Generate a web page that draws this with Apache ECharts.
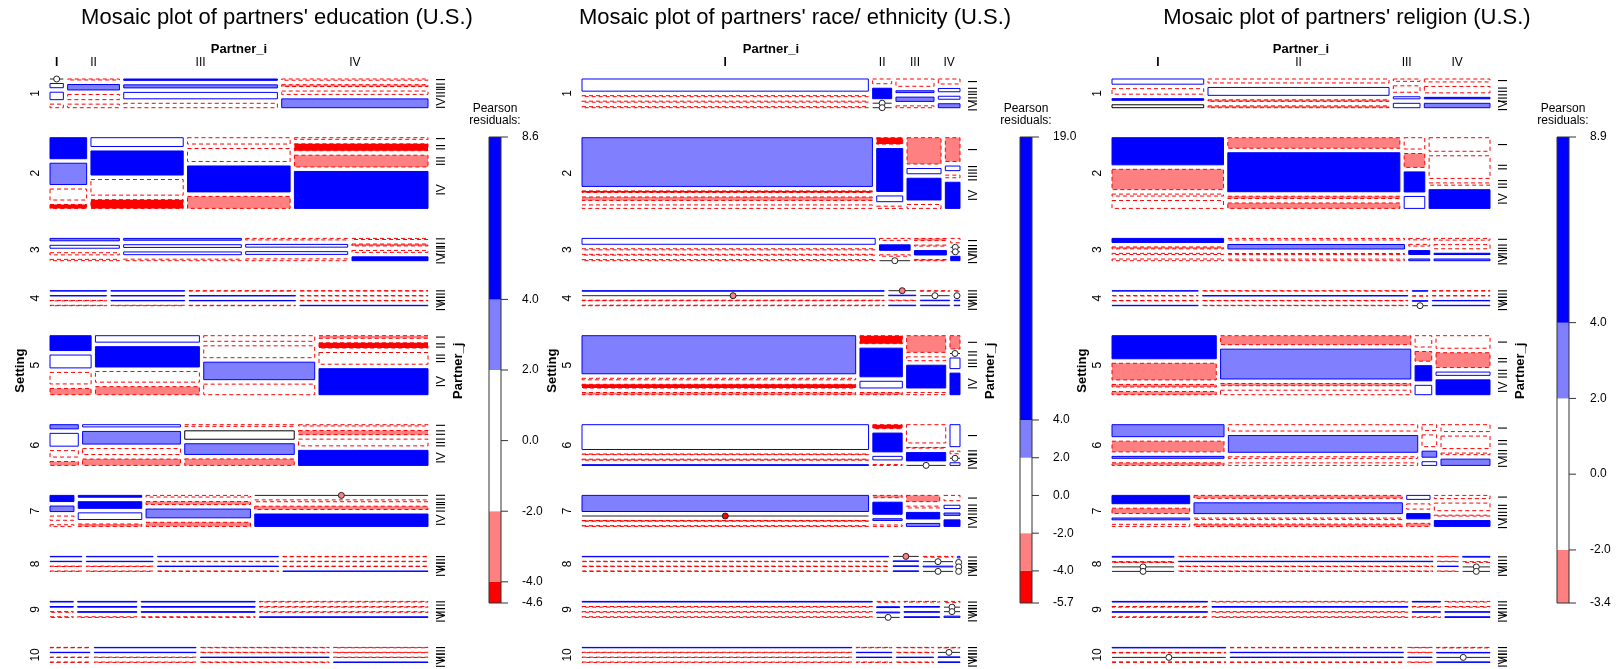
<!DOCTYPE html>
<html>
<head>
<meta charset="utf-8">
<script src="https://cdn.jsdelivr.net/npm/echarts@6.0.0/dist/echarts.min.js"></script>
<style>
  html, body { margin: 0; background: #fff; }
  #chart { width: 1620px; height: 669px; }
</style>
</head>
<body>
<div id="chart"></div>
<script>
// --- shared data ---
const settingLabels = ['1', '2', '3', '4', '5', '6', '7', '8', '9', '10'];
const levelLabels = ['I', 'II', 'III', 'IV'];
// relative size of each setting (row heights)
const settingTotals = [15.2, 57.2, 8.8, 1.5, 45.5, 27.2, 17.5, 1.5, 2.5, 1.5];

// --- education ---
const eduWidths = [
  [40, 155, 460, 438], [110, 277, 308, 401], [208, 353, 306, 228], [170, 222, 320, 385],
  [123, 311, 332, 326], [85, 294, 329, 389], [72, 191, 314, 521], [96, 201, 364, 436],
  [70, 178, 342, 506], [120, 306, 387, 284]
];
const eduHeights = [
  [[0, 13, 23, 11], [3, 17, 16, 11], [4, 9, 19, 13], [4, 6, 11, 29]],
  [[65, 66, 34, 12], [27, 74, 48, 27], [20, 41, 82, 38], [5, 21, 36, 113]],
  [[9, 11, 8, 5], [6, 9, 9, 5], [5, 9, 9, 6], [4, 7, 7, 14]],
  [[1, 1, 1, 1], [1, 1, 1, 1], [1, 1, 1, 1], [1, 1, 1, 1]],
  [[45, 39, 35, 19], [20, 63, 33, 25], [17, 36, 53, 32], [8, 16, 36, 80]],
  [[13, 40, 20, 12], [7, 40, 19, 20], [5, 26, 33, 20], [4, 13, 21, 47]],
  [[19, 17, 13, 5], [6, 22, 22, 8], [6, 11, 32, 15], [0, 6, 11, 41]],
  [[1, 1, 1, 1], [1, 1, 1, 1], [1, 1, 1, 1], [1, 1, 1, 1]],
  [[1, 1, 1, 1], [1, 1, 1, 1], [1, 1, 1, 1], [1, 1, 1, 1]],
  [[1, 1, 1, 1], [1, 1, 1, 1], [1, 1, 1, 1], [1, 1, 1, 1]]
];
const eduResid = [
  [[-1, 1, 1, -1], [-1, 3, -1, -1], [5, 3, 1, -1], [-1, -3, -1, 3]],
  [[5, 3, -1, -5], [1, 5, -1, -5], [-1, -1, 5, -3], [-1, -5, -3, 5]],
  [[3, 1, -1, -1], [3, 1, 1, -1], [-1, 1, 1, -1], [-1, -3, -1, 5]],
  [[3, 1, -1, -1], [1, 1, 1, -1], [-1, 1, 1, -1], [-1, -1, -1, 3]],
  [[5, 1, -1, -3], [1, 5, -1, -3], [-1, -1, 3, -1], [-3, -5, -1, 5]],
  [[3, 1, -1, -3], [1, 3, -1, -3], [-1, 0, 3, -3], [-1, -3, -1, 5]],
  [[5, 3, -1, -1], [5, 5, 1, -3], [-1, -3, 3, -3], [-3, -1, -3, 5]],
  [[1, 1, -3, -1], [1, 1, -3, -1], [1, -1, 1, -1], [-1, -1, -1, 1]],
  [[5, 5, -1, -1], [5, 5, 5, -1], [5, 5, 5, -1], [-1, -1, -1, 3]],
  [[-1, 3, -1, -1], [1, 3, -1, -1], [-1, -1, 3, -1], [-1, -1, -1, 5]]
];
const eduBreaks = [-4.6, -4, -2, 2, 4, 8.6];
const eduTicks = [8.6, 4, 2, 0, -2, -4, -4.6];

// --- race / ethnicity ---
const raceWidths = [
  [858, 57, 114, 65], [871, 78, 102, 44], [881, 92, 96, 28], [903, 82, 88, 18],
  [820, 127, 117, 30], [861, 88, 118, 30], [861, 88, 100, 48], [920, 77, 90, 8],
  [870, 69, 107, 48], [808, 107, 112, 66]
];
const raceHeights = [
  [[36, 3, 3, 3], [14, 31, 0, 0], [24, 6, 14, 6], [15, 10, 9, 12]],
  [[155, 5, 11, 11], [20, 135, 18, 7], [80, 16, 66, 12], [73, 14, 8, 80]],
  [[22, 4, 3, 4], [7, 20, 5, 0], [9, 4, 18, 5], [12, 0, 0, 12]],
  [[1, 0, 1, 1], [0, 1, 1, 1], [1, 0, 1, 1], [1, 0, 1, 1]],
  [[123, 5, 12, 7], [25, 90, 21, 7], [52, 12, 71, 7], [40, 0, 32, 65]],
  [[72, 2, 3, 2], [12, 58, 11, 3], [55, 2, 25, 0], [67, 8, 0, 8]],
  [[46, 0, 2, 2], [8, 42, 6, 5], [21, 6, 22, 10], [18, 11, 8, 22]],
  [[1, 1, 1, 1], [0, 1, 1, 1], [1, 0, 1, 0], [1, 0, 0, 0]],
  [[1, 1, 1, 1], [1, 1, 1, 0], [1, 1, 1, 1], [1, 0, 0, 1]],
  [[1, 1, 1, 1], [1, 1, 1, 1], [1, 1, 1, 1], [1, 0, 1, 1]]
];
const raceResid = [
  [[1, -1, -1, -1], [-1, 5, -1, -1], [-1, 3, 3, -1], [-1, 1, 1, 3]],
  [[3, -5, -3, -1], [-5, 5, 1, -1], [-3, 1, 5, -1], [-3, 1, -1, 5]],
  [[1, -1, -1, -1], [-1, 5, -1, -1], [-3, -1, 5, -3], [-1, -1, -1, 5]],
  [[3, -3, -3, -1], [-3, 1, -1, 1], [-1, -1, 1, 1], [-1, -1, 1, 1]],
  [[3, -1, -5, -3], [-5, 5, 1, -3], [-3, -1, 5, -1], [-3, -1, 1, 5]],
  [[1, -3, -3, 5], [-5, 5, 1, -1], [-1, -3, 5, -1], [1, -1, -1, 1]],
  [[3, -5, -5, -3], [-3, 5, 3, -1], [-3, -1, 5, 3], [-1, 1, 3, 5]],
  [[1, -1, -1, -1], [-3, 1, 3, 3], [-1, -1, 1, -1], [1, -1, -1, -1]],
  [[5, -1, -1, -1], [-1, 5, 3, -1], [-1, 3, 3, 5], [-1, -1, -1, 3]],
  [[1, -1, -1, -1], [-1, 3, 3, -1], [-1, -1, 3, -1], [-1, -1, 3, 5]]
];
const raceBreaks = [-5.7, -4, -2, 2, 4, 19.0];
const raceTicks = [19.0, 4, 2, 0, -2, -4, -5.7];

// --- religion ---
const relWidths = [
  [275, 543, 80, 197], [335, 517, 62, 183], [335, 530, 63, 168], [258, 615, 47, 173],
  [313, 571, 50, 162], [336, 568, 44, 147], [233, 625, 70, 167], [186, 763, 63, 82],
  [286, 586, 85, 135], [340, 518, 73, 160]
];
const relHeights = [
  [[16, 17, 5, 9], [13, 26, 5, 6], [8, 22, 7, 15], [10, 22, 5, 15]],
  [[83, 62, 6, 24], [33, 122, 7, 17], [35, 43, 62, 37], [42, 70, 7, 58]],
  [[17, 8, 5, 7], [7, 20, 5, 7], [6, 7, 16, 7], [7, 17, 5, 7]],
  [[1, 1, 1, 1], [1, 1, 1, 1], [1, 1, 1, 0], [1, 1, 1, 1]],
  [[72, 52, 8, 10], [28, 93, 7, 14], [35, 30, 47, 29], [38, 45, 10, 45]],
  [[37, 33, 6, 8], [20, 53, 5, 8], [17, 35, 18, 11], [22, 40, 5, 20]],
  [[28, 18, 6, 7], [10, 37, 5, 8], [13, 17, 17, 10], [11, 26, 3, 20]],
  [[1, 1, 0, 0], [1, 1, 1, 1], [1, 1, 1, 1], [1, 1, 0, 0]],
  [[1, 1, 1, 1], [1, 1, 1, 1], [1, 1, 1, 1], [1, 1, 1, 1]],
  [[1, 1, 0, 1], [1, 1, 1, 1], [1, 1, 1, 1], [1, 1, 0, 1]]
];
const relResid = [
  [[1, -1, 5, 0], [-1, 1, -3, -3], [-1, -1, 1, 1], [-1, -1, 5, 3]],
  [[5, -3, -1, -1], [-3, 5, -3, -3], [-1, -3, 5, 1], [-1, -1, -1, 5]],
  [[5, -3, -1, -1], [-1, 3, -1, -1], [-1, -1, 5, 3], [-1, -1, 5, 3]],
  [[3, -1, -1, 3], [-1, 1, -1, -1], [3, -1, 5, -1], [-1, -1, 1, 1]],
  [[5, -3, -3, -3], [-3, 3, -3, -1], [-1, -3, 5, 1], [-1, -3, 1, 5]],
  [[3, -3, 3, -3], [-1, 3, -1, -1], [-1, -1, 3, 1], [-1, -1, -1, 3]],
  [[5, -3, 3, -1], [-3, 3, -1, -3], [1, -1, 5, -3], [-1, -1, -1, 5]],
  [[1, -5, -1, -1], [-1, 1, -1, -1], [-1, -1, 3, -1], [1, -1, -1, -1]],
  [[5, -1, 1, -1], [-1, 5, -1, -1], [5, -1, 1, -1], [-1, -1, 1, 5]],
  [[1, -3, -1, -1], [-1, 3, 3, -1], [-1, -1, 3, -1], [-1, 3, -1, 1]]
];
const relBreaks = [-3.4, -2, 2, 4, 8.9];
const relTicks = [8.9, 4, 2, 0, -2, -3.4];

// --- layout ---
const FONT = "'Liberation Sans', Arial, Helvetica, sans-serif";
const COL_GAP = 4.3, SUB_GAP = 4.5, ROW_GAP = 30, MOSAIC_W = 378;
const TOP = 79, BAR_TOP = 137, BAR_H = 466, BAR_W = 12;

const panels = [
  { title: "Mosaic plot of partners' education (U.S.)", titleX: 277, left: 50, barX: 489,
    widths: eduWidths, heights: eduHeights, resid: eduResid, breaks: eduBreaks, ticks: eduTicks },
  { title: "Mosaic plot of partners' race/ ethnicity (U.S.)", titleX: 795, left: 582, barX: 1020,
    widths: raceWidths, heights: raceHeights, resid: raceResid, breaks: raceBreaks, ticks: raceTicks },
  { title: "Mosaic plot of partners' religion (U.S.)", titleX: 1347, left: 1112, barX: 1557,
    widths: relWidths, heights: relHeights, resid: relResid, breaks: relBreaks, ticks: relTicks }
];

function fillOf(r) {
  if (r >= 4) return '#0000FF';
  if (r >= 2) return '#8080FF';
  if (r <= -4) return '#FF0000';
  if (r <= -2) return '#FF8080';
  return '#FFFFFF';
}
function strokeOf(r) {
  return r > 0 ? '#0000FF' : (r < 0 ? '#FF0000' : '#000000');
}
const sum = a => a.reduce((s, v) => s + v, 0);

// mosaic cells in axis units (1 unit ~ 1px)
function buildMosaic(p) {
  const cells = [], labels = [];
  const contentW = MOSAIC_W - 3 * COL_GAP;
  let y = 0;
  settingTotals.forEach((rowH, s) => {
    const wSum = sum(p.widths[s]);
    let x = 0;
    p.widths[s].forEach((wv, c) => {
      const w = wv / wSum * contentW;
      const hs = p.heights[s][c];
      const hSum = sum(hs);
      let sy = y;
      hs.forEach((hv, j) => {
        const h = hv / hSum * rowH;
        cells.push([x, sy, x + w, sy + h, p.resid[s][c][j], hv === 0 ? 1 : 0]);
        if (c === 3) labels.push({ x: MOSAIC_W + 14, y: sy + h / 2, text: levelLabels[j] });
        sy += h + SUB_GAP;
      });
      if (s === 0) labels.push({ x: x + w / 2, y: -16, text: levelLabels[c], bold: c === 0, horiz: true });
      x += w + COL_GAP;
    });
    const rowFull = rowH + 3 * SUB_GAP;
    labels.push({ x: -14, y: y + rowFull / 2, text: settingLabels[s] });
    y += rowFull + ROW_GAP;
  });
  const yMax = y - ROW_GAP;
  labels.push({ x: MOSAIC_W / 2, y: -30, text: 'Partner_i', bold: true, horiz: true, name: true });
  labels.push({ x: -30, y: yMax / 2, text: 'Setting', bold: true, name: true });
  labels.push({ x: MOSAIC_W + 30, y: yMax / 2, text: 'Partner_j', bold: true, name: true });
  return { cells, labels, yMax };
}

function renderCell(params, api) {
  const r = api.value(4);
  const a = api.coord([api.value(0), api.value(1)]);
  const b = api.coord([api.value(2), api.value(3)]);
  if (api.value(5)) {
    return {
      type: 'group',
      children: [
        { type: 'line', shape: { x1: a[0], y1: a[1], x2: b[0], y2: a[1] },
          style: { stroke: '#222', lineWidth: 1 } },
        { type: 'circle', shape: { cx: (a[0] + b[0]) / 2, cy: a[1], r: 3 },
          style: { fill: fillOf(r), stroke: '#222', lineWidth: 1 } }
      ]
    };
  }
  return {
    type: 'rect',
    shape: { x: a[0], y: a[1], width: b[0] - a[0], height: Math.max(b[1] - a[1], 0.3) },
    style: { fill: fillOf(r), stroke: strokeOf(r), lineWidth: 1, lineDash: r < 0 ? [4, 3] : null }
  };
}

const grids = [], xAxes = [], yAxes = [], series = [], graphics = [];

panels.forEach((p, k) => {
  const m = buildMosaic(p);
  const gi = grids.length;
  grids.push({ left: p.left, top: TOP, width: MOSAIC_W, height: m.yMax });
  xAxes.push({ type: 'value', gridIndex: gi, min: 0, max: MOSAIC_W, show: false });
  yAxes.push({ type: 'value', gridIndex: gi, min: 0, max: m.yMax, inverse: true, show: false });
  series.push({
    type: 'custom', xAxisIndex: gi, yAxisIndex: gi, silent: true,
    data: m.cells, renderItem: renderCell
  });
  series.push({
    type: 'custom', xAxisIndex: gi, yAxisIndex: gi, silent: true,
    data: m.labels.map(l => [l.x, l.y]),
    renderItem: (params, api) => {
      const l = m.labels[params.dataIndex];
      const pt = api.coord([l.x, l.y]);
      const size = l.name ? 13 : 12;
      return {
        type: 'text', x: pt[0], y: pt[1], rotation: l.horiz ? 0 : Math.PI / 2,
        style: {
          text: l.text, fill: '#000', font: (l.bold ? 'bold ' : '') + size + 'px ' + FONT,
          align: 'center', verticalAlign: 'middle', textAlign: 'center', textVerticalAlign: 'middle'
        }
      };
    }
  });

  // legend bar
  const li = grids.length;
  const lo = p.breaks[0], hi = p.breaks[p.breaks.length - 1];
  grids.push({ left: p.barX, top: BAR_TOP, width: BAR_W, height: BAR_H });
  xAxes.push({ type: 'value', gridIndex: li, min: 0, max: 1, show: false });
  yAxes.push({ type: 'value', gridIndex: li, min: lo, max: hi, show: false });
  const bins = [];
  for (let i = 0; i < p.breaks.length - 1; i++) {
    bins.push([p.breaks[i], p.breaks[i + 1], (p.breaks[i] + p.breaks[i + 1]) / 2, 0]);
  }
  bins.push([lo, hi, 0, 1]);
  series.push({
    type: 'custom', xAxisIndex: li, yAxisIndex: li, silent: true, data: bins,
    renderItem: (params, api) => {
      const a = api.coord([0, api.value(1)]);
      const b = api.coord([1, api.value(0)]);
      const outline = api.value(3) === 1;
      return {
        type: 'rect',
        shape: { x: a[0], y: a[1], width: b[0] - a[0], height: b[1] - a[1] },
        style: outline ? { fill: null, stroke: '#333', lineWidth: 1 }
                       : { fill: fillOf(api.value(2)), stroke: null }
      };
    }
  });
  series.push({
    type: 'custom', xAxisIndex: li, yAxisIndex: li, silent: true,
    data: p.ticks.map(v => [1, v]),
    renderItem: (params, api) => {
      const v = api.value(1);
      const pt = api.coord([1, v]);
      return {
        type: 'group',
        children: [
          { type: 'line', shape: { x1: pt[0], y1: pt[1], x2: pt[0] + 7, y2: pt[1] },
            style: { stroke: '#333', lineWidth: 1 } },
          { type: 'text', x: pt[0] + 21, y: pt[1],
            style: { text: v.toFixed(1), fill: '#000', font: '12px ' + FONT,
                     align: 'left', verticalAlign: 'middle', textAlign: 'left', textVerticalAlign: 'middle' } }
        ]
      };
    }
  });

  graphics.push({ type: 'text', x: p.titleX, y: 18,
    style: { text: p.title, fill: '#000', font: '22px ' + FONT, align: 'center', verticalAlign: 'middle',
             textAlign: 'center', textVerticalAlign: 'middle' } });
  graphics.push({ type: 'text', x: p.barX + BAR_W / 2, y: 109,
    style: { text: 'Pearson', fill: '#000', font: '12px ' + FONT, align: 'center', verticalAlign: 'middle',
             textAlign: 'center', textVerticalAlign: 'middle' } });
  graphics.push({ type: 'text', x: p.barX + BAR_W / 2, y: 121,
    style: { text: 'residuals:', fill: '#000', font: '12px ' + FONT, align: 'center', verticalAlign: 'middle',
             textAlign: 'center', textVerticalAlign: 'middle' } });
});

const chart = echarts.init(document.getElementById('chart'));
chart.setOption({
  animation: false,
  backgroundColor: '#fff',
  grid: grids,
  xAxis: xAxes,
  yAxis: yAxes,
  series: series,
  graphic: graphics
});
</script>
</body>
</html>
